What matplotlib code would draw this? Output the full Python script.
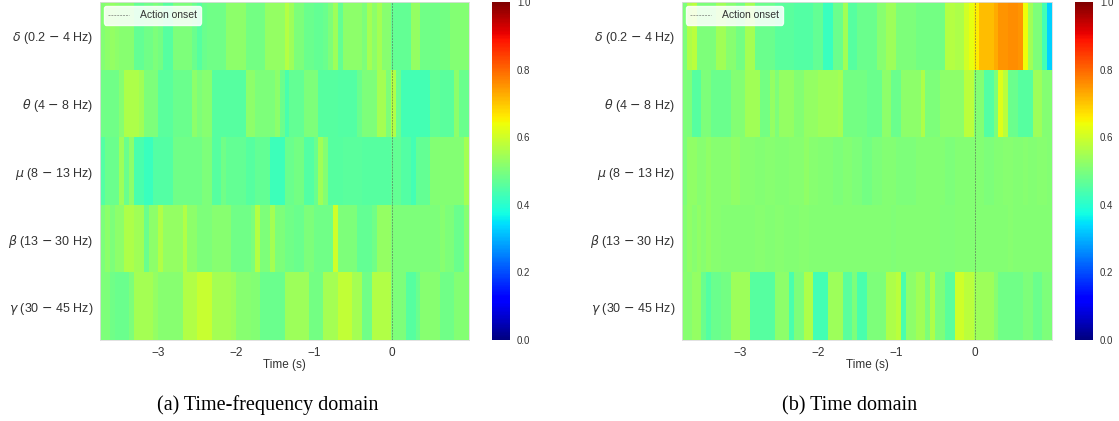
import numpy as np
import matplotlib
matplotlib.use("Agg")
import matplotlib.pyplot as plt

plt.rcParams["font.family"] = ["Liberation Sans", "DejaVu Sans"]
plt.rcParams["mathtext.fontset"] = "dejavusans"

band_labels = [r"$\delta$ (0.2 $-$ 4 Hz)", r"$\theta$ (4 $-$ 8 Hz)", r"$\mu$ (8 $-$ 13 Hz)",
               r"$\beta$ (13 $-$ 30 Hz)", r"$\gamma$ (30 $-$ 45 Hz)"]
time_ticks = [-3, -2, -1, 0]
cbar_ticks = [0.0, 0.2, 0.4, 0.6, 0.8, 1.0]
time_start = -3.74
time_end = 0.99
legend_label = "Action onset"
captions = ["(a) Time-frequency domain", "(b) Time domain"]

tf_delta = [.51,.52,.53,.52,.515,.515,.515,.47,.47,.485,
            .485,.50,.49,.455,.455,.50,.50,.50,.50,.48,
            .455,.48,.485,.485,.485,.485,.52,.52,.52,.52,
            .49,.49,.49,.49,.53,.53,.53,.53,.57,.54,
            .50,.50,.48,.48,.47,.47,.48,.50,.54,.47,
            .52,.52,.52,.52,.50,.55,.52,.55,.515,.515,
            .47,.47,.47,.47,.53,.53,.485,.485,.485,.485,
            .49,.49,.51,.51,.51,.51]
tf_theta = [.485,.485,.485,.485,.515,.56,.56,.56,.545,.50,
            .50,.50,.46,.46,.46,.48,.48,.48,.48,.52,
            .50,.515,.515,.455,.455,.455,.455,.455,.455,.455,
            .52,.52,.50,.50,.50,.50,.52,.48,.44,.47,
            .47,.47,.50,.50,.50,.455,.455,.455,.455,.45,
            .45,.45,.45,.48,.50,.50,.50,.55,.55,.50,
            .565,.48,.43,.43,.43,.43,.43,.43,.47,.47,
            .46,.46,.46,.52,.48,.48]
tf_mu = [.45,.48,.48,.48,.54,.48,.52,.44,.44,.42,
         .42,.45,.45,.45,.45,.485,.485,.485,.485,.485,
         .485,.50,.50,.455,.455,.485,.47,.47,.47,.47,
         .455,.455,.47,.47,.47,.425,.425,.425,.48,.48,
         .49,.49,.45,.45,.48,.545,.51,.455,.455,.455,
         .46,.46,.46,.46,.455,.455,.455,.455,.455,.455,
         .47,.47,.45,.45,.43,.47,.47,.47,.51,.51,
         .51,.51,.51,.51,.51,.55]
tf_beta = [.50,.52,.50,.52,.52,.56,.56,.545,.545,.48,
           .52,.52,.565,.53,.53,.53,.53,.565,.52,.52,
           .50,.50,.50,.515,.515,.515,.515,.485,.485,.485,
           .485,.50,.57,.50,.50,.55,.50,.50,.485,.485,
           .48,.48,.50,.50,.485,.485,.485,.485,.60,.50,
           .50,.50,.50,.47,.47,.47,.485,.53,.53,.53,
           .50,.50,.50,.50,.50,.50,.50,.50,.50,.50,
           .515,.50,.50,.48,.48,.515]
tf_gamma = [.50,.50,.485,.48,.48,.48,.50,.55,.55,.55,
            .55,.53,.515,.515,.515,.515,.515,.565,.565,.565,
            .59,.59,.59,.55,.55,.55,.55,.54,.515,.515,
            .515,.51,.51,.48,.48,.48,.48,.48,.54,.54,
            .54,.54,.54,.49,.49,.49,.55,.55,.55,.585,
            .585,.585,.55,.55,.485,.485,.565,.565,.565,.565,
            .50,.50,.50,.455,.455,.48,.515,.515,.515,.515,
            .485,.485,.485,.51,.51,.51]

td_delta = [.50,.56,.575,.50,.50,.50,.50,.545,.545,.515,
            .515,.49,.49,.55,.55,.48,.48,.48,.48,.46,
            .46,.46,.46,.45,.45,.45,.45,.47,.47,.42,
            .42,.48,.48,.545,.455,.455,.48,.48,.48,.48,
            .515,.515,.54,.54,.50,.50,.50,.50,.49,.49,
            .49,.49,.49,.49,.57,.57,.56,.56,.605,.63,
            .66,.71,.71,.71,.73,.75,.75,.76,.76,.75,
            .64,.545,.50,.50,.43,.33]
td_theta = [.50,.50,.455,.455,.50,.50,.48,.48,.48,.48,
            .51,.51,.51,.545,.545,.545,.49,.49,.53,.50,
            .53,.53,.53,.51,.51,.53,.53,.53,.54,.54,
            .54,.54,.55,.49,.49,.49,.49,.49,.48,.48,
            .48,.52,.52,.48,.48,.52,.52,.52,.52,.56,
            .50,.50,.50,.52,.52,.52,.52,.52,.575,.575,
            .51,.51,.45,.45,.50,.62,.575,.48,.48,.455,
            .455,.455,.54,.54,.51,.51]
td_mu = [.50,.525,.525,.515,.515,.525,.515,.515,.515,.515,
         .525,.525,.515,.515,.515,.51,.51,.515,.515,.51,
         .51,.51,.515,.515,.515,.525,.515,.515,.51,.51,
         .51,.50,.50,.51,.51,.50,.50,.49,.49,.50,
         .50,.51,.51,.51,.50,.50,.50,.50,.51,.51,
         .51,.51,.51,.51,.50,.50,.51,.51,.51,.51,
         .51,.51,.50,.50,.51,.51,.515,.515,.51,.51,
         .515,.51,.51,.515,.515,.51]
td_beta = [.51,.525,.515,.525,.515,.525,.515,.515,.51,.51,
           .51,.51,.51,.51,.51,.515,.515,.51,.51,.515,
           .515,.51,.51,.51,.515,.515,.51,.51,.51,.51,
           .51,.51,.51,.51,.51,.51,.51,.51,.51,.51,
           .51,.51,.51,.505,.51,.51,.51,.51,.51,.51,
           .51,.51,.51,.505,.505,.505,.51,.51,.51,.51,
           .51,.51,.51,.51,.51,.51,.51,.515,.51,.51,
           .51,.51,.51,.51,.51,.51]
td_gamma = [.515,.515,.53,.53,.48,.45,.48,.48,.49,.49,
            .54,.54,.54,.54,.455,.455,.455,.455,.455,.52,
            .52,.52,.44,.50,.50,.56,.56,.43,.43,.43,
            .54,.54,.54,.46,.46,.50,.44,.44,.50,.50,
            .50,.50,.56,.56,.575,.44,.52,.52,.545,.545,
            .50,.56,.50,.50,.46,.46,.60,.60,.575,.575,
            .54,.54,.54,.54,.515,.485,.485,.485,.485,.485,
            .50,.50,.48,.48,.50,.50]

panels = [[tf_delta, tf_theta, tf_mu, tf_beta, tf_gamma],
          [td_delta, td_theta, td_mu, td_beta, td_gamma]]

W, H = 1119, 421
fig = plt.figure(figsize=(W / 100, H / 100), dpi=100, facecolor="white")

boxes = [(100, 469, 492, 510), (682, 1052, 1075, 1093)]
caption_x = [268, 850]
top, bottom = 2, 340
grey = "#333333"
for rows, (x0, x1, c0, c1), cap, cx in zip(panels, boxes, captions, caption_x):
    ax = fig.add_axes([x0 / W, 1 - bottom / H, (x1 - x0) / W, (bottom - top) / H])
    data = np.array(rows)
    edges_x = np.linspace(time_start, time_end, data.shape[1] + 1)
    edges_y = np.arange(data.shape[0] + 1)
    mesh = ax.pcolormesh(edges_x, edges_y, data, cmap="jet", vmin=0, vmax=1, rasterized=True)
    ax.set_ylim(len(rows), 0)
    ax.set_xlim(time_start, time_end)
    ax.axvline(0, color="#555555", ls=(0, (2, 1)), lw=0.7, alpha=0.55, label=legend_label)
    ax.set_yticks(np.arange(len(rows)) + 0.5, band_labels)
    ax.set_xticks(time_ticks, ["\u2212" + str(abs(t)) if t else "0" for t in time_ticks])
    ax.tick_params(length=0, labelsize=8.5, colors=grey, pad=5)
    ax.tick_params(axis="y", labelsize=9, pad=5)
    ax.set_xlabel("Time (s)", fontsize=8.5, color=grey, labelpad=0)
    for s in ax.spines.values():
        s.set_color("#dddddd")
        s.set_linewidth(0.6)
    leg = ax.legend(loc="upper left", fontsize=7.5, frameon=True, framealpha=0.85,
                    edgecolor="white", facecolor="white", borderaxespad=0.4,
                    borderpad=0.4, handlelength=2.0, handletextpad=1.0, labelcolor=grey)
    cax = fig.add_axes([c0 / W, 1 - bottom / H, (c1 - c0) / W, (bottom - top) / H])
    cb = fig.colorbar(mesh, cax=cax)
    cb.set_ticks(cbar_ticks)
    cb.ax.tick_params(length=0, labelsize=7, colors=grey, pad=5)
    cb.outline.set_visible(False)
    fig.text(cx / W, 1 - 410 / H, cap, family="Liberation Serif",
             fontsize=14.5, ha="center", va="baseline", color="black")

fig.savefig("out.png", dpi=100)
